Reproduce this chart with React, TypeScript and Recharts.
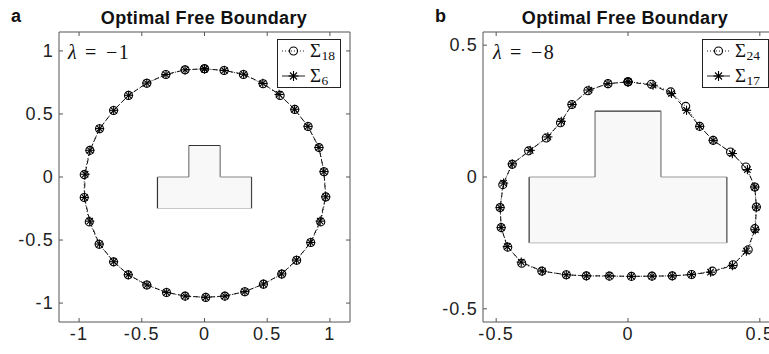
import React from 'react';
import { ScatterChart, Scatter, XAxis, YAxis, ReferenceArea, ReferenceLine } from 'recharts';

// ---------- data ----------
const aX18 = [0.0, 0.156, 0.31, 0.467, 0.603, 0.72, 0.826, 0.913, 0.953, 0.967, 0.927, 0.847, 0.735, 0.616, 0.47, 0.321, 0.162, 0.01, -0.155, -0.303, -0.46, -0.608, -0.725, -0.84, -0.919, -0.959, -0.959, -0.914, -0.837, -0.725, -0.606, -0.46, -0.308, -0.155];
const aY18 = [0.858, 0.845, 0.813, 0.739, 0.647, 0.536, 0.401, 0.233, 0.042, -0.158, -0.356, -0.52, -0.66, -0.77, -0.85, -0.91, -0.945, -0.955, -0.945, -0.916, -0.857, -0.776, -0.673, -0.533, -0.356, -0.163, 0.019, 0.211, 0.383, 0.528, 0.647, 0.744, 0.813, 0.85];
const aX6 = [0.0, 0.158, 0.312, 0.465, 0.595, 0.718, 0.824, 0.912, 0.952, 0.966, 0.922, 0.846, 0.733, 0.615, 0.47, 0.322, 0.163, 0.01, -0.154, -0.302, -0.459, -0.607, -0.724, -0.838, -0.915, -0.957, -0.952, -0.913, -0.836, -0.724, -0.605, -0.46, -0.307, -0.155];
const aY6 = [0.858, 0.845, 0.815, 0.742, 0.655, 0.537, 0.402, 0.234, 0.043, -0.157, -0.35, -0.519, -0.659, -0.769, -0.849, -0.909, -0.944, -0.954, -0.944, -0.915, -0.856, -0.775, -0.672, -0.532, -0.35, -0.162, 0.022, 0.212, 0.384, 0.529, 0.648, 0.745, 0.813, 0.85];

const bX24 = [0.0, 0.089, 0.162, 0.219, 0.272, 0.323, 0.389, 0.447, 0.481, 0.487, 0.481, 0.456, 0.399, 0.32, 0.241, 0.168, 0.091, 0.013, -0.07, -0.158, -0.234, -0.327, -0.403, -0.456, -0.481, -0.485, -0.475, -0.439, -0.377, -0.31, -0.256, -0.213, -0.152, -0.076];
const bY24 = [0.361, 0.352, 0.323, 0.268, 0.192, 0.139, 0.095, 0.038, -0.038, -0.114, -0.196, -0.276, -0.333, -0.357, -0.37, -0.375, -0.376, -0.377, -0.376, -0.375, -0.371, -0.357, -0.327, -0.266, -0.192, -0.116, -0.029, 0.048, 0.099, 0.148, 0.206, 0.275, 0.327, 0.354];
const bX17 = [0.0, 0.095, 0.165, 0.222, 0.272, 0.323, 0.396, 0.453, 0.481, 0.487, 0.483, 0.449, 0.396, 0.313, 0.241, 0.168, 0.091, 0.013, -0.072, -0.158, -0.234, -0.325, -0.405, -0.458, -0.481, -0.485, -0.472, -0.439, -0.371, -0.304, -0.253, -0.212, -0.148, -0.076];
const bY17 = [0.361, 0.348, 0.317, 0.253, 0.192, 0.139, 0.089, 0.028, -0.038, -0.114, -0.2, -0.281, -0.336, -0.361, -0.37, -0.375, -0.376, -0.377, -0.375, -0.375, -0.371, -0.357, -0.323, -0.264, -0.192, -0.116, -0.023, 0.05, 0.101, 0.152, 0.211, 0.275, 0.33, 0.354];

// T-shaped obstacle vertices
const tX = [-0.375, -0.375, -0.125, -0.125, 0.125, 0.125, 0.375, 0.375, -0.375];
const tY = [-0.25, 0, 0, 0.25, 0.25, 0, 0, -0.25, -0.25];
const tEdgeColors = ['#333', '#999', '#777', '#333', '#777', '#999', '#444', '#c8c8c8'];

const ticksA = [-1, -0.5, 0, 0.5, 1];
const ticksB = [-0.5, 0, 0.5];

const toPts = (xs: number[], ys: number[]) => {
  const p = xs.map((x, i) => ({ x, y: ys[i] }));
  return [...p, p[0]];
};

// ---------- shapes ----------
const Circle = (props: any) => (
  <circle cx={props.cx} cy={props.cy} r={4} fill="none" stroke="#000" strokeWidth={1.1} />
);
const Star = ({ cx, cy, r = 4.6 }: any) => {
  const d = r * 0.7;
  return (
    <g stroke="#000" strokeWidth={1.1}>
      <line x1={cx - r} y1={cy} x2={cx + r} y2={cy} />
      <line x1={cx} y1={cy - r} x2={cx} y2={cy + r} />
      <line x1={cx - d} y1={cy - d} x2={cx + d} y2={cy + d} />
      <line x1={cx - d} y1={cy + d} x2={cx + d} y2={cy - d} />
    </g>
  );
};
const NoShape = () => <g />;

const tickFont = { fontFamily: 'Liberation Sans, Arial, sans-serif', fontSize: 18, fill: '#222', letterSpacing: 1.2 };

const XTick = (props: any) => {
  const { x, y, payload, plotH } = props;
  return (
    <g>
      <line x1={x} x2={x} y1={y} y2={y - 4} stroke="#555" />
      <line x1={x} x2={x} y1={y - plotH} y2={y - plotH + 4} stroke="#555" />
      <text x={x} y={y + 18} textAnchor="middle" {...tickFont}>{String(payload.value)}</text>
    </g>
  );
};
const YTick = (props: any) => {
  const { x, y, payload, plotW } = props;
  return (
    <g>
      <line x1={x} x2={x + 4} y1={y} y2={y} stroke="#555" />
      <line x1={x + plotW - 4} x2={x + plotW} y1={y} y2={y} stroke="#555" />
      <text x={x - 5} y={y + 6} textAnchor="end" {...tickFont}>{String(payload.value)}</text>
    </g>
  );
};

type PanelProps = {
  left: number;
  dom: [number, number];
  ydom: [number, number];
  ticks: number[];
  s1: { x: number; y: number }[];
  s2: { x: number; y: number }[];
  rightMargin: number;
};

const Panel = ({ left, dom, ydom, ticks, s1, s2, rightMargin }: PanelProps) => {
  const W = 380, H = 354;
  const margin = { top: 32, right: rightMargin, bottom: 2, left: 9 };
  const plotW = W - margin.left - 50 - margin.right;
  const plotH = H - margin.top - margin.bottom - 30;
  return (
    <div style={{ position: 'absolute', left, top: 0 }}>
      <ScatterChart width={W} height={H} margin={margin}>
        <XAxis type="number" dataKey="x" domain={dom} ticks={ticks} allowDataOverflow height={30}
          axisLine={{ stroke: '#555' }} tickLine={false} tickSize={0} tickMargin={0}
          tick={(p: any) => <XTick {...p} plotH={plotH} />} interval={0} />
        <YAxis type="number" dataKey="y" domain={ydom} ticks={ticks} allowDataOverflow width={50}
          axisLine={{ stroke: '#555' }} tickLine={false} tickSize={0} tickMargin={0}
          tick={(p: any) => <YTick {...p} plotW={plotW} />} interval={0} />
        <ReferenceLine y={ydom[1]} stroke="#555" ifOverflow="extendDomain" />
        <ReferenceLine x={dom[1]} stroke="#555" ifOverflow="extendDomain" />
        <ReferenceArea x1={tX[0]} x2={tX[6]} y1={tY[0]} y2={tY[1]} fill="#f8f8f8" fillOpacity={1} stroke="none" />
        <ReferenceArea x1={tX[2]} x2={tX[4]} y1={tY[2]} y2={tY[3]} fill="#f8f8f8" fillOpacity={1} stroke="none" />
        {tEdgeColors.map((c, i) => (
          <Scatter key={'t' + i} data={[{ x: tX[i], y: tY[i] }, { x: tX[i + 1], y: tY[i + 1] }]}
            line={{ stroke: c, strokeWidth: 1.2 }} shape={NoShape} isAnimationActive={false} />
        ))}
        <Scatter data={s1} line={{ stroke: '#111', strokeWidth: 1, strokeDasharray: '1 2' }}
          shape={Circle} isAnimationActive={false} />
        <Scatter data={s2} line={{ stroke: '#111', strokeWidth: 1, strokeDasharray: '5 3' }}
          shape={Star} isAnimationActive={false} />
      </ScatterChart>
    </div>
  );
};

const serif = 'Liberation Serif, DejaVu Serif, serif';
const sans = 'Liberation Sans, Arial, sans-serif';

const LegendRows = ({ x0, y0, w, s1, s2 }: any) => {
  const lx1 = x0 + 5, lx2 = x0 + 28, mx = x0 + 16.5, tx = x0 + 33;
  return (
    <g>
      <rect x={x0 + 0.5} y={y0 + 0.5} width={w} height={48} fill="#fff" stroke="#222" />
      <line x1={lx1} x2={lx2} y1={y0 + 12} y2={y0 + 12} stroke="#222" strokeDasharray="1 2" />
      <Circle cx={mx} cy={y0 + 12} />
      <text x={tx} y={y0 + 18} fontFamily={serif} fontSize={19} fill="#111">Σ</text>
      <text x={tx + 11.5} y={y0 + 21} fontFamily={serif} fontSize={13.5} fill="#111">{s1}</text>
      <line x1={lx1} x2={lx2} y1={y0 + 37} y2={y0 + 37} stroke="#222" />
      <Star cx={mx} cy={y0 + 37} r={5} />
      <text x={tx} y={y0 + 43} fontFamily={serif} fontSize={19} fill="#111">Σ</text>
      <text x={tx + 11.5} y={y0 + 46} fontFamily={serif} fontSize={13.5} fill="#111">{s2}</text>
    </g>
  );
};

export default function App() {
  return (
    <div style={{ position: 'absolute', left: 0, top: 0, width: 769, height: 354, overflow: 'hidden', background: '#fff' }}>
      <Panel left={0} dom={[-1.16, 1.16]} ydom={[-1.15, 1.15]} ticks={ticksA}
        s1={toPts(aX18, aY18)} s2={toPts(aX6, aY6)} rightMargin={30} />
      <Panel left={424} dom={[-0.55, 0.55]} ydom={[-0.55, 0.55]} ticks={ticksB}
        s1={toPts(bX24, bY24)} s2={toPts(bX17, bY17)} rightMargin={31} />
      <svg width={769} height={354} style={{ position: 'absolute', left: 0, top: 0, pointerEvents: 'none' }}>
        <text x={11} y={22} fontFamily={sans} fontWeight="bold" fontSize={18} fill="#111">a</text>
        <text x={204} y={24} textAnchor="middle" fontFamily={sans} fontWeight="bold" fontSize={18} letterSpacing={0.35} fill="#111">Optimal Free Boundary</text>
        <text x={435} y={22} fontFamily={sans} fontWeight="bold" fontSize={18} fill="#111">b</text>
        <text x={625} y={24} textAnchor="middle" fontFamily={sans} fontWeight="bold" fontSize={18} letterSpacing={0.35} fill="#111">Optimal Free Boundary</text>
        <g fontFamily={serif} fontSize={20} fill="#111">
          <text x={68} y={59} fontStyle="italic">λ</text>
          <text x={85} y={59}>=</text>
          <text x={106} y={59} letterSpacing={1.5}>−1</text>
          <text x={493} y={59} fontStyle="italic">λ</text>
          <text x={510} y={59}>=</text>
          <text x={531} y={59} letterSpacing={1.5}>−8</text>
        </g>
        <LegendRows x0={277} y0={39} w={63} s1="18" s2="6" />
        <LegendRows x0={702} y0={39} w={66} s1="24" s2="17" />
      </svg>
    </div>
  );
}
